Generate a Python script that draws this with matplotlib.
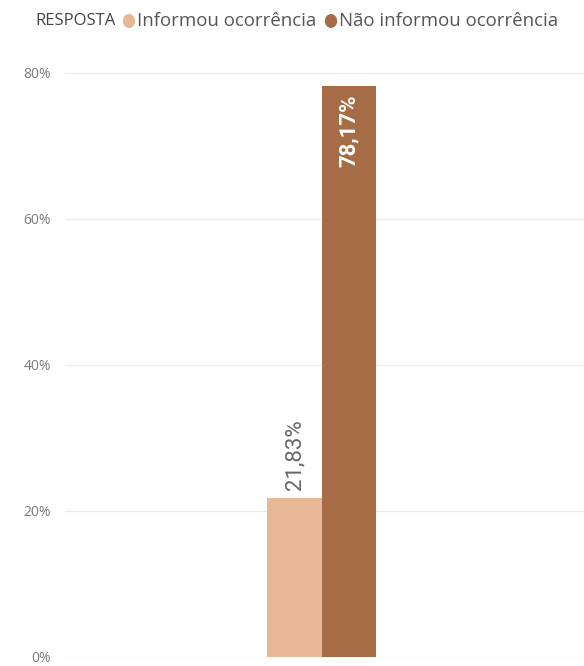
import matplotlib
matplotlib.use('Agg')
import matplotlib.pyplot as plt
from matplotlib.ticker import FuncFormatter

# === DADOS ===
respostas = ['Informou ocorrência', 'Não informou ocorrência']
valores = [21.83, 78.17]
cores = ['#E8B896', '#A66C45']
rotulos = ['21,83%', '78,17%']
ticks_y = [0, 20, 40, 60, 80]

# === FIGURA ===
plt.rcParams['font.family'] = ['Open Sans', 'DejaVu Sans']
fig = plt.figure(figsize=(5.84, 6.66), dpi=100)
ax = fig.add_axes([65 / 584, 9 / 666, 519 / 584, 584 / 666])

largura = 0.105
posicoes = [-largura / 2, largura / 2]
ax.bar(posicoes, valores, width=largura, color=cores, zorder=2)

ax.set_xlim(-0.495, 0.505)
ax.set_ylim(0, 80)
ax.set_yticks(ticks_y)
ax.yaxis.set_major_formatter(FuncFormatter(lambda v, p: f'{v:.0f}%'))
ax.tick_params(axis='y', length=0, pad=10, labelsize=10, labelcolor='#7a7a7a')
ax.set_xticks([])
ax.grid(axis='y', color='#EBEBEB', linewidth=0.9, zorder=0)
for s in ax.spines.values():
    s.set_visible(False)

# rótulos de dados
fonte_rot = ['Roboto', 'DejaVu Sans']
ax.text(posicoes[0], valores[0] + 1.1, rotulos[0], rotation=90, ha='center', va='bottom',
        fontsize=16, color='#666666', family=fonte_rot)
ax.text(posicoes[1], valores[1] - 1.1, rotulos[1], rotation=90, ha='center', va='top',
        fontsize=16, color='white', fontweight='bold', family=fonte_rot)

# === LEGENDA ===
def px(x, y):
    return x / 584, 1 - y / 666

fig.text(*px(35, 21), 'RESPOSTA', fontsize=12, color='#444444', va='center', ha='left')
for (xc, xt), nome, cor in zip([(129, 137), (331, 339)], respostas, cores):
    fig.patches.append(plt.Circle(px(xc, 21), 5.5 / 584, transform=fig.transFigure,
                                  color=cor, figure=fig))
    fig.text(*px(xt, 21), nome, fontsize=13.4, color='#555555', va='center', ha='left')

fig.savefig('out.png', dpi=100, facecolor='white')
